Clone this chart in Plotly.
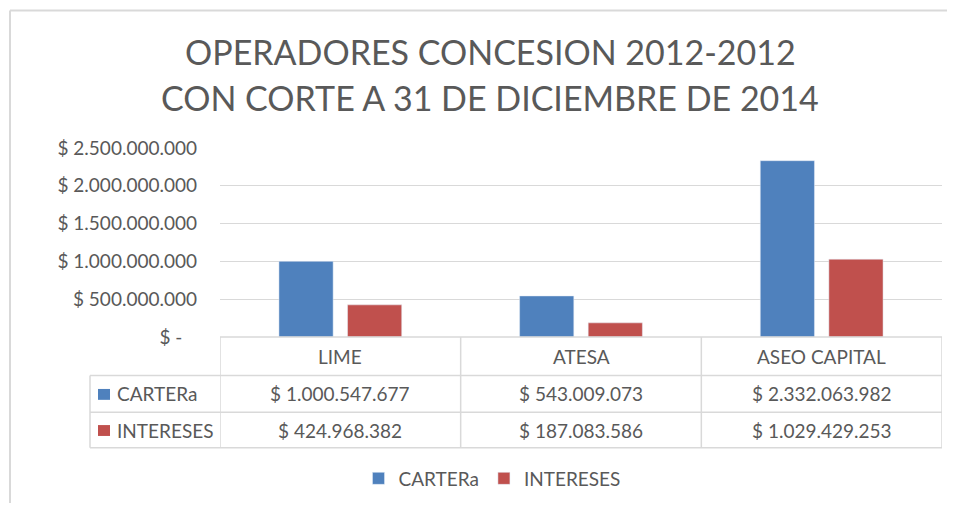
import plotly.graph_objects as go

operadores = ["LIME", "ATESA", "ASEO CAPITAL"]
cartera = [1000547677, 543009073, 2332063982]
intereses = [424968382, 187083586, 1029429253]
series_names = ["CARTERa", "INTERESES"]
tick_vals = [0, 500000000, 1000000000, 1500000000, 2000000000, 2500000000]
tick_text = ["$ -&nbsp;&nbsp;&nbsp;", "$ 500.000.000", "$ 1.000.000.000", "$ 1.500.000.000",
             "$ 2.000.000.000", "$ 2.500.000.000"]
titulo = ["OPERADORES CONCESION 2012-2012", "CON CORTE A 31 DE DICIEMBRE DE 2014"]

AZUL = "#4f81bd"
ROJO = "#c0504d"
GRIS = "#595959"
LINEA = "#d9d9d9"
FUENTE = "Lato"

# page body has an 8px margin on each side; keep the figure inside the window
OFF = 8
W, H = 955 - 2 * OFF, 511 - 2 * OFF
L, R, T = 212, 5, 140
B = H - T - 191
pw, ph = W - L - R, H - T - B


def px_x(p):
    return (p - OFF - L) / pw


def px_y(p):
    return (H - B - (p - OFF)) / ph


def pesos(v):
    return "$ " + f"{v:,}".replace(",", ".")


fig = go.Figure()
fig.add_bar(x=operadores, y=cartera, name=series_names[0], marker_color=AZUL)
fig.add_bar(x=operadores, y=intereses, name=series_names[1], marker_color=ROJO)

shapes = []
annotations = []

# chart border, only top and left edges are visible
shapes.append(dict(type="line", xref="paper", yref="paper",
                   x0=px_x(10), x1=px_x(955), y0=px_y(9), y1=px_y(9),
                   line=dict(color=LINEA, width=2)))
shapes.append(dict(type="line", xref="paper", yref="paper",
                   x0=px_x(10), x1=px_x(10), y0=px_y(9), y1=px_y(511),
                   line=dict(color=LINEA, width=2)))

# data table grid
shapes.append(dict(type="line", xref="x", yref="paper", x0=-0.5, x1=2.5,
                   y0=px_y(339), y1=px_y(339), line=dict(color=LINEA, width=1.5)))
for yy in [378, 415, 451]:
    shapes.append(dict(type="line", xref="paper", yref="paper", x0=px_x(90), x1=1,
                       y0=px_y(yy), y1=px_y(yy), line=dict(color=LINEA, width=1.5)))
for k in range(len(operadores) + 1):
    shapes.append(dict(type="line", xref="x", yref="paper", x0=k - 0.5, x1=k - 0.5,
                       y0=px_y(339), y1=px_y(451), line=dict(color=LINEA, width=1.5)))
shapes.append(dict(type="line", xref="paper", yref="paper", x0=px_x(90), x1=px_x(90),
                   y0=px_y(378), y1=px_y(451), line=dict(color=LINEA, width=1.5)))

# category header
for op in operadores:
    annotations.append(dict(x=op, xref="x", y=px_y(358.5), yref="paper", text=op,
                            xanchor="center", yanchor="middle", showarrow=False,
                            font=dict(size=19, color=GRIS)))

# value rows
filas = [(series_names[0], cartera, AZUL, 396.5), (series_names[1], intereses, ROJO, 433)]
for nombre, vals, color, yc in filas:
    shapes.append(dict(type="rect", xref="paper", yref="paper",
                       x0=px_x(98), x1=px_x(110), y0=px_y(yc - 5), y1=px_y(yc + 6),
                       fillcolor=color, line=dict(width=0)))
    annotations.append(dict(x=px_x(115), xref="paper", y=px_y(yc), yref="paper",
                            text=nombre, xanchor="left", yanchor="middle", showarrow=False,
                            font=dict(size=19, color=GRIS)))
    for op, v in zip(operadores, vals):
        annotations.append(dict(x=op, xref="x", y=px_y(yc), yref="paper", text=pesos(v),
                                xanchor="center", yanchor="middle", showarrow=False,
                                font=dict(size=19, color=GRIS)))

# title
for linea, yc in zip(titulo, [50, 97]):
    annotations.append(dict(x=px_x(490), xref="paper", y=px_y(yc), yref="paper",
                            text=linea, xanchor="center", yanchor="middle", showarrow=False,
                            font=dict(size=34, color=GRIS, family=FUENTE)))

fig.update_layout(
    width=W, height=H,
    margin=dict(l=L, r=R, t=T, b=B),
    paper_bgcolor="white", plot_bgcolor="white",
    font=dict(family=FUENTE, color=GRIS, size=19),
    barmode="group", bargap=0.43, bargroupgap=0.21,
    showlegend=True,
    legend=dict(orientation="h", x=px_x(492), xanchor="center", y=px_y(482),
                yanchor="middle", font=dict(size=19, color=GRIS),
                itemwidth=30, tracegroupgap=0),
    shapes=shapes, annotations=annotations,
)
fig.update_xaxes(showticklabels=False, showgrid=False, zeroline=False,
                 range=[-0.5, 2.5], fixedrange=True)
fig.update_yaxes(range=[0, 2500000000], tickvals=tick_vals, ticktext=tick_text,
                 showgrid=True, gridcolor=LINEA, gridwidth=1, zeroline=False,
                 ticks="", ticklabelstandoff=22, tickfont=dict(size=19, color=GRIS))

fig.write_html("out.html")
